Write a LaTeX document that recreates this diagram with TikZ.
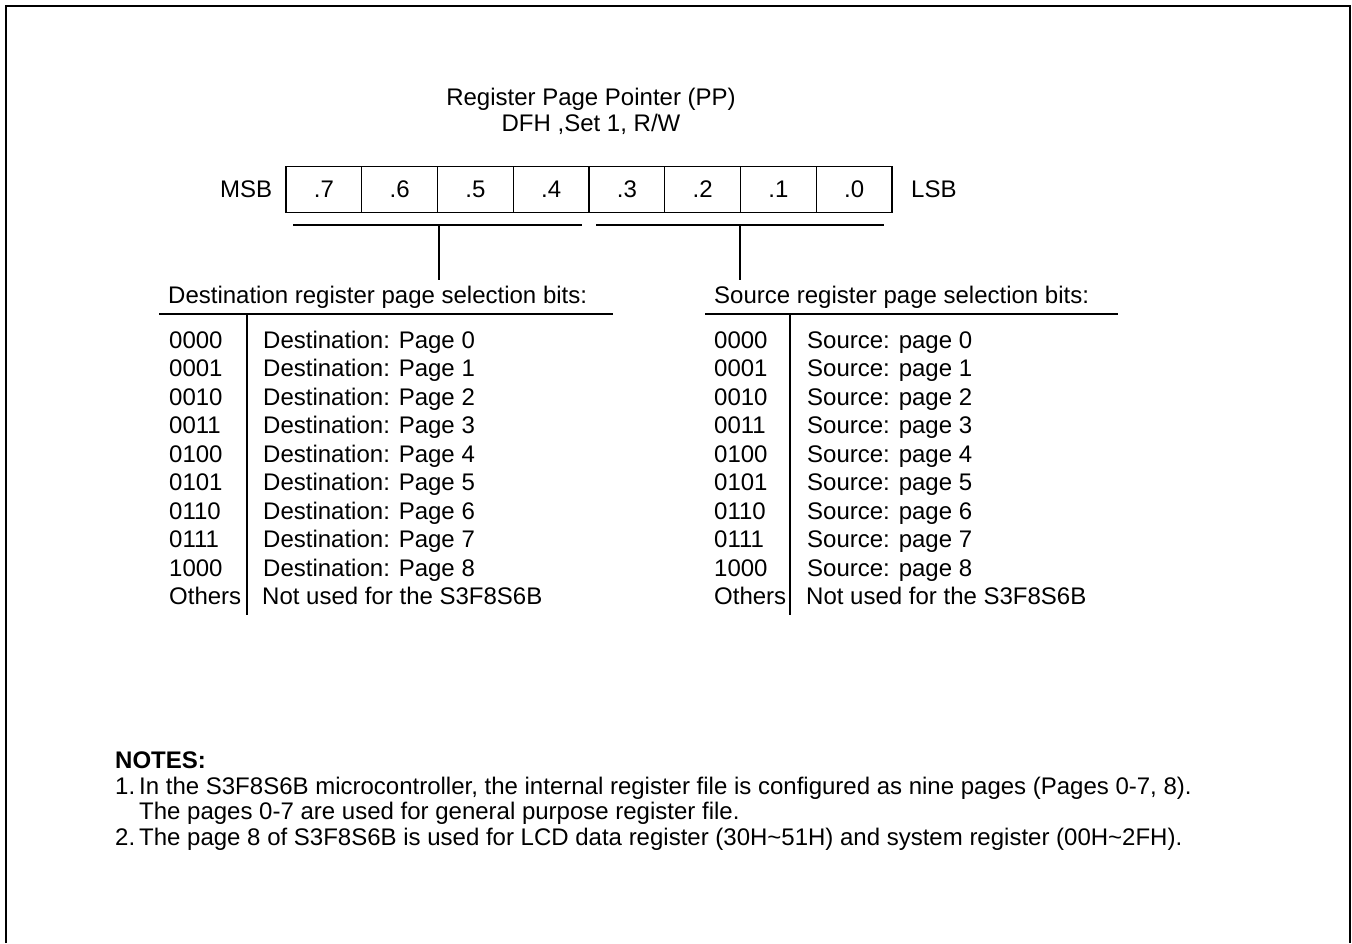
\documentclass[tikz,border=0pt]{standalone}
\usepackage{fontspec}
\setmainfont{Liberation Sans}
\begin{document}
\begin{tikzpicture}[x=1pt,y=-1pt,
  txt/.style={inner sep=0pt, anchor=base west, font=\fontsize{24}{28}\selectfont},
  ctxt/.style={txt, anchor=base},
  note/.style={inner sep=0pt, anchor=base west, font=\fontsize{24}{26}\selectfont},
  bitcell/.style={draw, line width=1.3pt, minimum width=75.75pt, minimum height=45.6pt,
    inner sep=0pt, outer sep=0pt},
  rule/.style={line width=1.3pt},
  frame/.style={line width=2pt}]
\useasboundingbox (0,0) rectangle (1352,943);

% outer frame (open at the bottom)
\draw[frame] (6,943) -- (6,6) -- (1350,6) -- (1350,943);

% title
\node[ctxt] (t1) at (591,105) {Register Page Pointer (PP)};
\node[ctxt] (t2) at (591,131.5) {DFH ,Set 1, R/W};

% bit cells .7 ... .0
\foreach \b [count=\i from 0] in {7,6,5,4,3,2,1,0}
  \node[bitcell] (b\b) at ({286+75.75*(\i+0.5)},189.5) {};
\foreach \b in {7,6,5,4,3,2,1,0}
  \node[ctxt] (l\b) at ([yshift=-7.5pt]b\b.center) {.\b};
\node[txt] (msb) at (220,197) {MSB};
\node[txt] (lsb) at (911,197) {LSB};

% field brackets
\coordinate (dl) at (293,225);
\coordinate (dr) at (582,225);
\coordinate (dm) at (439,225);
\coordinate (de) at (439,280);
\coordinate (sl) at (596,225);
\coordinate (sr) at (884,225);
\coordinate (sm) at (740,225);
\coordinate (se) at (740,280);
\draw[rule] (dl) -- (dr);
\draw[rule] (dm) -- (de);
\draw[rule] (sl) -- (sr);
\draw[rule] (sm) -- (se);

% destination table
\node[txt] (dh) at (168,303) {Destination register page selection bits:};
\coordinate (dhl) at (159,314);
\coordinate (dhr) at (613,314);
\coordinate (dvt) at (247,314);
\coordinate (dvb) at (247,615);
\draw[rule] (dhl) -- (dhr);
\draw[rule] (dvt) -- (dvb);
\foreach \c/\t [count=\i from 0] in {0000/0,0001/1,0010/2,0011/3,0100/4,0101/5,0110/6,0111/7,1000/8}{
  \node[txt] (dc\i) at (169,{348+28.55*\i}) {\c};
  \node[txt] (dt\i) at (263,{348+28.55*\i}) {Destination: Page \t};
}
\node[txt] (dc9) at (169,{348+28.55*9}) {Others};
\node[txt] (dt9) at (262,{348+28.55*9}) {Not used for the S3F8S6B};

% source table
\node[txt] (sh) at (714,303) {Source register page selection bits:};
\coordinate (shl) at (705,314);
\coordinate (shr) at (1118,314);
\coordinate (svt) at (790,314);
\coordinate (svb) at (790,615);
\draw[rule] (shl) -- (shr);
\draw[rule] (svt) -- (svb);
\foreach \c/\t [count=\i from 0] in {0000/0,0001/1,0010/2,0011/3,0100/4,0101/5,0110/6,0111/7,1000/8}{
  \node[txt] (sc\i) at (714,{348+28.55*\i}) {\c};
  \node[txt] (st\i) at (807,{348+28.55*\i}) {Source: page \t};
}
\node[txt] (sc9) at (714,{348+28.55*9}) {Others};
\node[txt] (st9) at (806,{348+28.55*9}) {Not used for the S3F8S6B};

% notes
\node[note, font=\fontsize{24}{26}\selectfont\bfseries] (nh) at (115,768) {NOTES:};
\node[note] (n1) at (115,794) {1.};
\node[note] (n1a) at (139,794) {In the S3F8S6B microcontroller, the internal register file is configured as nine pages (Pages 0-7, 8).};
\node[note] (n1b) at (139,819.5) {The pages 0-7 are used for general purpose register file.};
\node[note] (n2) at (115,845) {2.};
\node[note] (n2a) at (139,845) {The page 8 of S3F8S6B is used for LCD data register (30H\textasciitilde 51H) and system register (00H\textasciitilde 2FH).};
\end{tikzpicture}
\end{document}
